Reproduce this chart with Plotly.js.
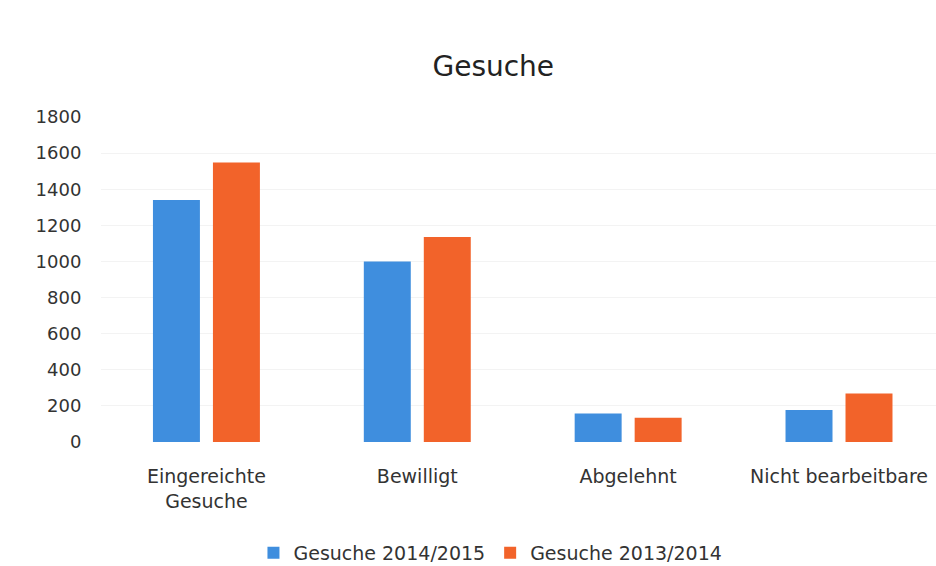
<!DOCTYPE html>
<html>
<head>
<meta charset="utf-8">
<script src="https://cdn.plot.ly/plotly-3.0.1.min.js"></script>
<style>html,body{margin:0;padding:0;background:#fff;}#chart{width:936px;height:566px;}</style>
</head>
<body>
<div id="chart"></div>
<script>
const categories = ["Eingereichte<br>Gesuche", "Bewilligt", "Abgelehnt", "Nicht bearbeitbare"];
const series2014_2015 = [1340, 1000, 158, 177];
const series2013_2014 = [1548, 1135, 135, 268];
const seriesNames = ["Gesuche 2014/2015", "Gesuche 2013/2014"];
const yTicks = [0, 200, 400, 600, 800, 1000, 1200, 1400, 1600, 1800];

const font = "'DejaVu Sans', 'Noto Sans', sans-serif";
const data = [
  {type: 'bar', x: categories, y: series2014_2015, name: seriesNames[0], marker: {color: '#3f8ede'}},
  {type: 'bar', x: categories, y: series2013_2014, name: seriesNames[1], marker: {color: '#f2632a'}}
];
const layout = {
  width: 936, height: 566,
  paper_bgcolor: '#fff', plot_bgcolor: '#fff',
  margin: {l: 101, r: 0, t: 117, b: 124},
  barmode: 'group', bargap: 0.431, bargroupgap: 0.217,
  title: {text: 'Gesuche', font: {family: font, size: 28, color: '#222'},
          x: 0.527, xref: 'container', xanchor: 'center', y: 0.883, yref: 'container', yanchor: 'middle'},
  xaxis: {range: [-0.5, 3.46], showgrid: false, zeroline: false, showline: false,
          ticks: 'outside', ticklen: 17, tickcolor: 'rgba(0,0,0,0)',
          tickfont: {family: font, size: 19, color: '#333'}},
  yaxis: {range: [0, 1800], tickvals: yTicks, ticktext: yTicks.map(String),
          showgrid: true, gridcolor: '#f3f3f3', zeroline: false, showline: false,
          ticks: 'outside', ticklen: 15, tickcolor: 'rgba(0,0,0,0)',
          tickfont: {family: font, size: 18, color: '#333'}},
  showlegend: true,
  legend: {orientation: 'h', xref: 'container', x: 0.524, xanchor: 'center',
           yref: 'container', y: 0.023, yanchor: 'middle',
           font: {family: font, size: 19, color: '#333'}, itemwidth: 30, traceorder: 'normal'}
};
Plotly.newPlot('chart', data, layout, {displayModeBar: false, staticPlot: true});
</script>
</body>
</html>
